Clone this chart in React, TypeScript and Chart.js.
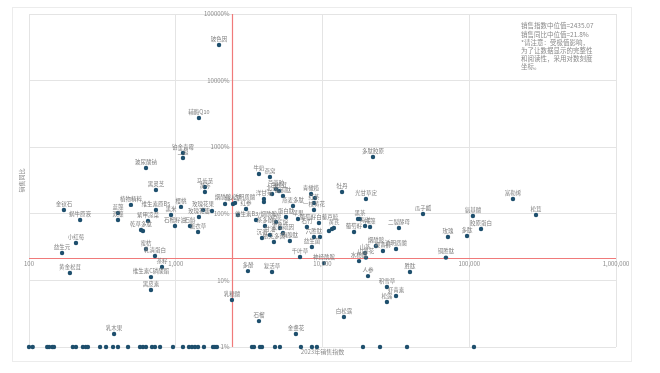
import React, { useEffect, useRef } from 'react';
import { Chart, registerables } from 'chart.js';

Chart.register(...registerables);

const MEDIAN_SALES = 2435.07;
const MEDIAN_YOY = 21.8;

const xTickValues = [100, 1000, 10000, 100000, 1000000];
const xTickLabels = ['100', '1,000', '10,000', '100,000', '1,000,000'];
const yTickValues = [1, 10, 100, 1000, 10000, 100000];
const yTickLabels = ['1%', '10%', '100%', '1000%', '10000%', '100000%'];
const xAxisTitle = '2023年销售指数';
const yAxisTitle = '销售同比';
const noteLines = [
  '销售指数中位值=2435.07',
  '销售同比中位值=21.8%',
  '*请注意：受极值影响，',
  '为了让数据显示的完整性',
  '和阅读性，采用对数刻度',
  '坐标。',
];

const pointNames = [
  '玻色因', '辅酶Q10', '铂金青霉', '二裂', '玻尿酸钠', '黑灵芝', '马齿苋', '黄芩', '金钗石', '植物精粹',
  '蓝藻', '双藻', '蜗牛原液', '小红莓', '益生元', '黄金松茸', '维生素原B5', '樱桃', '黑米', '石榴籽油',
  '紫甲凉菜', '乾草多肽', '', '蜜桔', '乳清蛋白', '茶籽', '维生素C磷酸酯', '黑皮素', '乳木果', '石斛',
  '薰衣草', '玫瑰花果', '玫瑰花瓣', '', '', '仙人掌', '烟酰胺/透明质酸', '', '红参', '牛奶',
  '燕窝', '芦荟胶', '北芪', '洋甘菊', '', '蓝铜肽', '燕麦多肽', '蛋白肽', '青橄榄', '',
  '红茶', '一枝黄花', '牡丹', '多肽胶原', '光甘草定', '黑茶', '', '海洋', '褐藻', '二裂酵母',
  '葡萄籽', '黄芪', '', '', '葡萄籽白藜芦醇', '苹果', '石竹', '六胜肽', '', '益生菌',
  '千叶草', '神经酰胺', '胸腺肽', '山茶花', '山茶', '水杨酸', '视黄醇', '烟酰胺', '透明质酸', '人参',
  '胜肽', '积雪草', '虾青素', '松露', '白松露', '石榴', '金盏花', '乳糖酸', '多酚', '复活草',
  '铜胜肽', '瓜子瓤', '玫瑰', '多肽', '氨基酸', '胶原蛋白', '富勒烯', '松茸', '白松茸', '茶多酚',
  '泛醇', '角鲨烷', '甘油', '麦角硫因', '依克多因', '沉香', '维生素B3/烟酰胺',
];

const salesIndex = [
  1972, 1439, 1120, 1120, 627, 733, 1581, 1581, 173, 495,
  404, 404, 223, 209, 168, 190, 733, 1086, 929, 988,
  647, 580, 598, 627, 722, 806, 678, 678, 380, 1250,
  1419, 1535, 1439, 1766, 2168, 2455, 2535, 2655, 3013, 3690,
  4385, 4820, 4530, 3990, 3990, 5380, 6295, 5640, 8360, 8890,
  8750, 8750, 13590, 22080, 19770, 17990, 17460, 19500, 21090, 33190,
  16400, 11970, 11070, 11610, 9460, 6810, 7830, 8750, 9610, 8470,
  7030, 10230, 5995, 19770, 19500, 17740, 25820, 23120, 31700, 20420,
  39450, 27480, 31700, 27480, 14000, 3690, 6590, 2415, 3105, 4530,
  69340, 48410, 71610, 96600, 105900, 120300, 198600, 285100, 5055, 4055,
  4820, 5130, 4385, 5380, 4667, 3871, 3524,
];

const yoyGrowth = [
  34280, 2742, 818, 689, 488, 228, 252, 212, 114, 136,
  103, 80.7, 80.7, 36.5, 25.8, 12.9, 114, 127, 95.9, 65.6,
  78, 57.1, 55.2, 29.6, 23.2, 15.9, 11.2, 7.18, 1.57, 65.6,
  53.3, 114, 89.5, 110, 140, 140, 145, 95.9, 118, 396,
  357, 236, 198, 167, 150, 185, 131, 89.5, 198, 173,
  145, 114, 212, 713, 167, 83.6, 83.6, 65.6, 63.4, 61.2,
  53.3, 61.2, 55.2, 59.2, 72.8, 83.6, 63.4, 44.9, 44.9, 31.8,
  22.4, 18.2, 39.1, 22, 25.8, 19.5, 27.6, 32.9, 29.6, 11.6,
  13.4, 7.96, 5.83, 4.74, 2.82, 2.45, 1.57, 5.08, 13.8, 13.4,
  22, 99.3, 44.9, 46.5, 92.7, 59.2, 167, 95.9, 220, 65.6,
  75.3, 61.2, 48.1, 51.5, 37.8, 43.4, 80.7,
];

// items sitting on the 1% floor (no label)
const floorSales = [
  100, 106, 133, 137, 144, 148, 199, 209, 233, 244,
  252, 305, 335, 374, 404, 473, 571, 598, 627, 689,
  722, 782, 958, 1120, 1231, 1290, 1352, 1419, 1557, 1794,
  1850, 1909, 3308, 3414, 3750, 3871, 4747, 5130, 7130, 8472,
  9161, 18880, 24660, 37670, 107700,
];
const floorGrowth = [
  1, 1, 1, 1, 1, 1, 1, 1, 1, 1,
  1, 1, 1, 1, 1, 1, 1, 1, 1, 1,
  1, 1, 1, 1, 1, 1, 1, 1, 1, 1,
  1, 1, 1, 1, 1, 1, 1, 1, 1, 1,
  1, 1, 1, 1, 1,
];

const FONT = '"Noto Sans CJK SC", "Noto Sans", sans-serif';
const DOT = '#1e4f6d';
const RED = '#f07a7a';
const GRID = '#e4e4e4';

const medianLinesPlugin = {
  id: 'medianLines',
  beforeDatasetsDraw(chart: any) {
    const ctx = chart.ctx;
    const xs = chart.scales.x;
    const ys = chart.scales.y;
    const area = chart.chartArea;
    const ax = Math.round(xs.getPixelForValue(MEDIAN_SALES)) + 0.5;
    const ay = Math.round(ys.getPixelForValue(MEDIAN_YOY)) + 0.5;
    ctx.save();
    ctx.strokeStyle = RED;
    ctx.lineWidth = 1.2;
    ctx.beginPath();
    ctx.moveTo(ax, area.top);
    ctx.lineTo(ax, area.bottom);
    ctx.moveTo(area.left, ay);
    ctx.lineTo(area.right, ay);
    ctx.stroke();
    ctx.restore();
  },
};

const overlayPlugin = {
  id: 'overlay',
  afterDatasetsDraw(chart: any) {
    const ctx = chart.ctx;
    const xs = chart.scales.x;
    const ys = chart.scales.y;
    const area = chart.chartArea;
    ctx.save();

    // point labels
    const meta = chart.getDatasetMeta(0);
    ctx.font = `5.5px ${FONT}`;
    ctx.fillStyle = '#7d7d7d';
    ctx.textAlign = 'center';
    ctx.textBaseline = 'bottom';
    meta.data.forEach((el: any, i: number) => {
      const name = pointNames[i];
      if (name) ctx.fillText(name, el.x, el.y - 3.5);
    });

    // tick labels
    const axisX = xs.getPixelForValue(MEDIAN_SALES);
    const axisY = ys.getPixelForValue(MEDIAN_YOY);
    ctx.font = `6px ${FONT}`;
    ctx.fillStyle = '#8a8a8a';
    ctx.textAlign = 'right';
    ctx.textBaseline = 'middle';
    yTickValues.forEach((v, i) => ctx.fillText(yTickLabels[i], axisX - 3, ys.getPixelForValue(v)));
    ctx.textAlign = 'center';
    ctx.textBaseline = 'top';
    xTickValues.forEach((v, i) => ctx.fillText(xTickLabels[i], xs.getPixelForValue(v), axisY + 3));

    // axis titles
    ctx.fillText(xAxisTitle, (area.left + area.right) / 2, area.bottom + 2);
    ctx.save();
    ctx.translate(22, (area.top + area.bottom) / 2);
    ctx.rotate(-Math.PI / 2);
    ctx.textBaseline = 'middle';
    ctx.fillText(yAxisTitle, 0, 0);
    ctx.restore();

    // note
    ctx.font = `6.5px ${FONT}`;
    ctx.fillStyle = '#8a8a8a';
    ctx.textAlign = 'left';
    ctx.textBaseline = 'middle';
    noteLines.forEach((t, i) => ctx.fillText(t, area.right - 95, area.top + 12 + i * 8.2));

    ctx.restore();
  },
};

export default function App() {
  const ref = useRef<HTMLCanvasElement | null>(null);

  useEffect(() => {
    if (!ref.current) return;
    const chart = new Chart(ref.current, {
      type: 'scatter',
      data: {
        datasets: [
          {
            data: salesIndex.map((v, i) => ({ x: v, y: yoyGrowth[i] })),
            pointRadius: 2.2,
            pointBackgroundColor: DOT,
            pointBorderWidth: 0,
            clip: false as any,
          },
          {
            data: floorSales.map((v, i) => ({ x: v, y: floorGrowth[i] })),
            pointRadius: 2.2,
            pointBackgroundColor: DOT,
            pointBorderWidth: 0,
            clip: false as any,
          },
        ],
      },
      options: {
        animation: false,
        responsive: false,
        maintainAspectRatio: false,
        devicePixelRatio: 1,
        layout: { padding: { left: 29, right: 44, top: 14, bottom: 26 } },
        plugins: { legend: { display: false }, tooltip: { enabled: false } },
        scales: {
          x: {
            type: 'logarithmic',
            min: 100,
            max: 1000000,
            position: { y: MEDIAN_YOY } as any,
            afterBuildTicks: (s: any) => {
              s.ticks = xTickValues.map((v) => ({ value: v }));
            },
            ticks: { display: false },
            grid: { color: GRID, lineWidth: 1, drawTicks: false },
            border: { display: false },
          },
          y: {
            type: 'logarithmic',
            min: 1,
            max: 100000,
            position: { x: MEDIAN_SALES } as any,
            afterBuildTicks: (s: any) => {
              s.ticks = yTickValues.map((v) => ({ value: v }));
            },
            ticks: { display: false },
            grid: { color: GRID, lineWidth: 1, drawTicks: false },
            border: { display: false },
          },
        },
      },
      plugins: [medianLinesPlugin, overlayPlugin],
    } as any);
    return () => chart.destroy();
  }, []);

  return (
    <div style={{ position: 'fixed', left: 0, top: 0, width: 660, height: 373, background: '#fff' }}>
      <div
        style={{
          position: 'absolute',
          left: 12,
          top: 7,
          width: 620,
          height: 355,
          border: '1px solid #ececec',
          boxSizing: 'border-box',
        }}
      />
      <canvas
        ref={ref}
        width={660}
        height={373}
        style={{ position: 'absolute', left: 0, top: 0, width: 660, height: 373 }}
      />
    </div>
  );
}
